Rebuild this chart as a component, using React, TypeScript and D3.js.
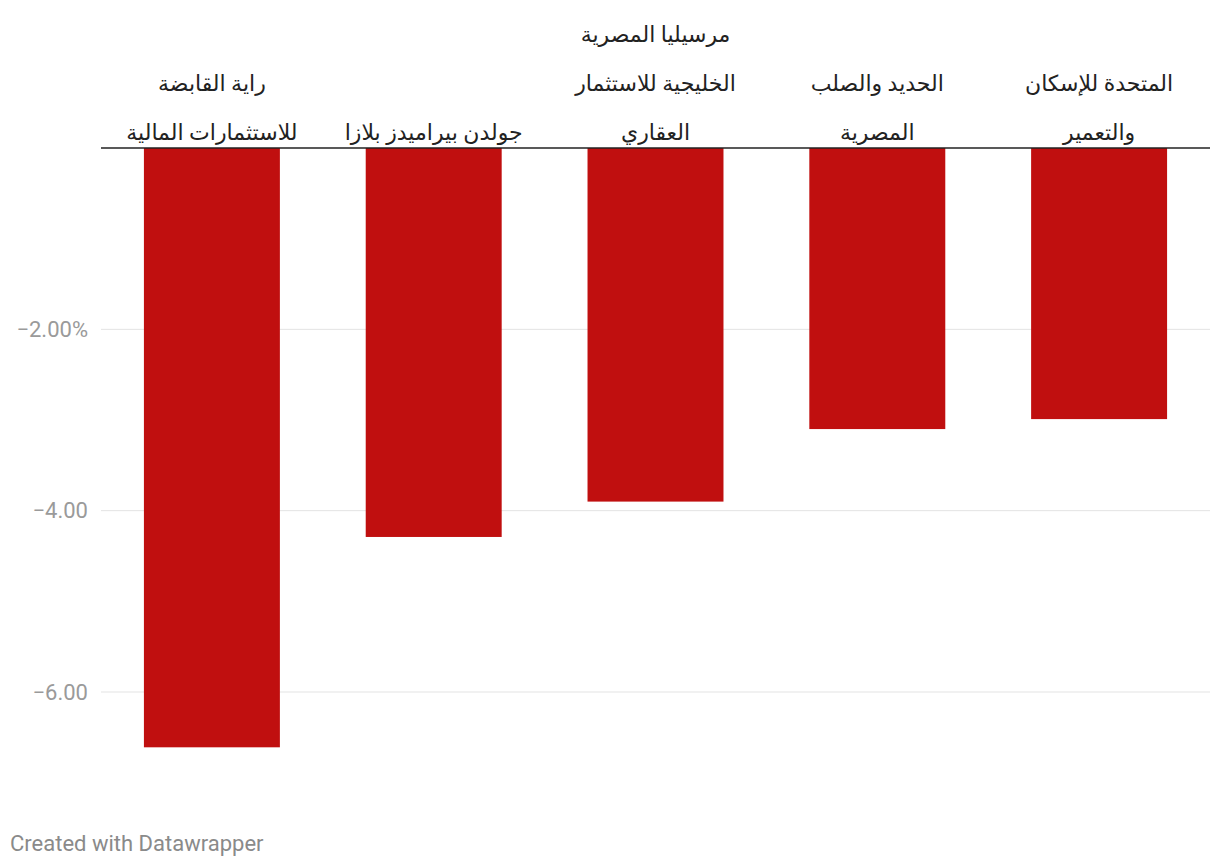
import React from 'react';
import * as d3 from 'd3';

// company names, already broken into label lines (top to bottom)
const companies = [
    'راية القابضة للاستثمارات المالية',
    'جولدن بيراميدز بلازا',
    'مرسيليا المصرية الخليجية للاستثمار العقاري',
    'الحديد والصلب المصرية',
    'المتحدة للإسكان والتعمير',
];
const labelLines = [
    ['راية القابضة', 'للاستثمارات المالية'],
    ['جولدن بيراميدز بلازا'],
    ['مرسيليا المصرية', 'الخليجية للاستثمار', 'العقاري'],
    ['الحديد والصلب', 'المصرية'],
    ['المتحدة للإسكان', 'والتعمير'],
];
const changes = [-6.61, -4.29, -3.9, -3.1, -2.99];
const ticks = [-2, -4, -6];
const tickLabels = ['\u22122.00%', '\u22124.00', '\u22126.00'];

const W = 1220;
const H = 868;

const App = () => {
    const x = d3.scaleBand()
        .domain(companies)
        .range([101, 1210])
        .paddingInner(0.387)
        .paddingOuter(0.1935);

    const y = d3.scaleLinear()
        .domain([0, -6])
        .range([148, 692]);

    const font = 'Roboto, "DejaVu Sans", sans-serif';

    return (
        <svg width={W} height={H} style={{ position: 'absolute', left: 0, top: 0, background: '#fff' }}>
            {ticks.map((t, i) => (
                <g key={t}>
                    <line x1={101} x2={1210} y1={y(t)} y2={y(t)} stroke="#e3e3e3" strokeWidth={1} />
                    <text x={88} y={y(t)} dy="0.35em" textAnchor="end" fill="#9a9a9a"
                        fontFamily={font} fontSize={22}>{tickLabels[i]}</text>
                </g>
            ))}
            {companies.map((c, i) => (
                <rect key={c} x={x(c)} y={y(0)} width={x.bandwidth()}
                    height={y(changes[i]) - y(0)} fill="#c00f0f" />
            ))}
            <line x1={101} x2={1210} y1={y(0)} y2={y(0)} stroke="#222" strokeWidth={1.5} />
            {companies.map((c, i) => {
                const lines = labelLines[i];
                const cx = (x(c) as number) + x.bandwidth() / 2;
                return (
                    <g key={'l' + c}>
                        {lines.map((ln, j) => (
                            <text key={j} x={cx} y={140 - (lines.length - 1 - j) * 49}
                                textAnchor="middle" direction="rtl" fill="#222"
                                fontFamily={font} fontSize={22}>{ln}</text>
                        ))}
                    </g>
                );
            })}
            <text x={10} y={851} fill="#8a8a8a" fontFamily={font} fontSize={22}>Created with Datawrapper</text>
        </svg>
    );
};

export default App;
